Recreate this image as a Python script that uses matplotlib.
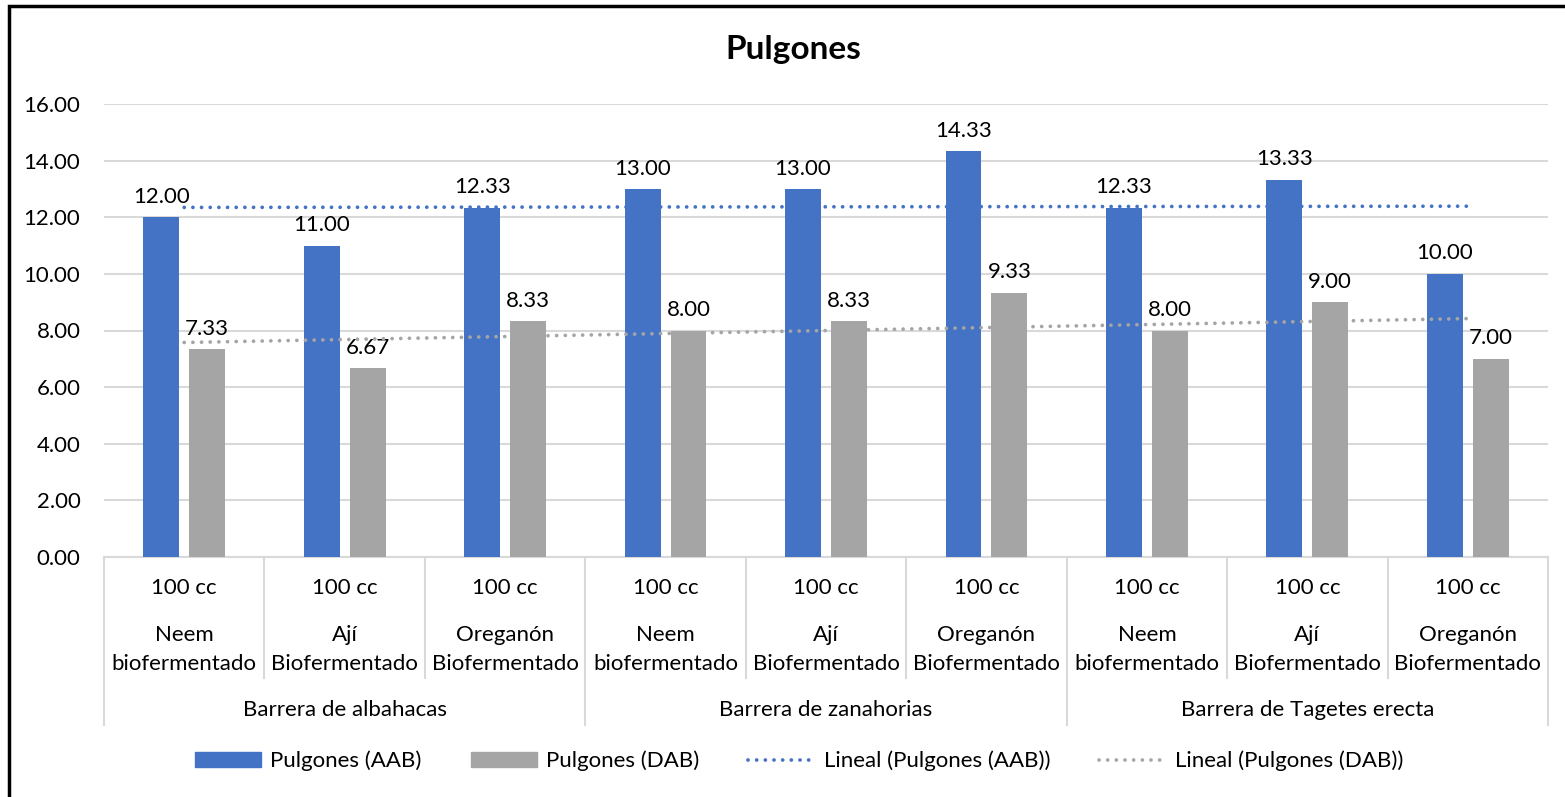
import numpy as np
import matplotlib
matplotlib.use("Agg")
import matplotlib.pyplot as plt
from matplotlib.patches import Rectangle
from matplotlib.lines import Line2D
from matplotlib.patches import Patch

plt.rcParams["font.family"] = ["Lato", "DejaVu Sans"]

# data
treatments = ["Neem\nbiofermentado", "Ají\nBiofermentado", "Oreganón\nBiofermentado"] * 3
doses = ["100 cc"] * 9
barriers = ["Barrera de albahacas", "Barrera de zanahorias", "Barrera de Tagetes erecta"]
aab = [12.00, 11.00, 12.33, 13.00, 13.00, 14.33, 12.33, 13.33, 10.00]
dab = [7.33, 6.67, 8.33, 8.00, 8.33, 9.33, 8.00, 9.00, 7.00]

blue = "#4472C4"
gray = "#A5A5A5"
grid_c = "#D9D9D9"
fs = 16
dot = (0, (0.01, 2.3))

fig = plt.figure(figsize=(15.65, 7.97), dpi=100)
ax = fig.add_axes([104 / 1565, 1 - 557 / 797, (1548 - 104) / 1565, 453 / 797])

x = np.arange(len(aab))
w = 0.224
off = 0.143
ax.bar(x - off, aab, w, color=blue, zorder=3)
ax.bar(x + off, dab, w, color=gray, zorder=3)

for xi, v in zip(x - off, aab):
    ax.annotate(f"{v:.2f}", (xi, v), xytext=(0, 7.5), textcoords="offset points",
                ha="center", va="bottom", fontsize=fs)
for xi, v in zip(x + off, dab):
    ax.annotate(f"{v:.2f}", (xi, v), xytext=(0, 7.5), textcoords="offset points",
                ha="center", va="bottom", fontsize=fs)

# linear trendlines (Excel "Lineal")
xs = x + 1
for vals, c in [(aab, blue), (dab, gray)]:
    m, b = np.polyfit(xs, vals, 1)
    ax.plot(x, m * xs + b, color=c, linestyle=dot, linewidth=2.7,
            dash_capstyle="round", zorder=4)

ax.set_xlim(-0.5, len(aab) - 0.5)
ax.set_ylim(0, 16)
ax.set_yticks(np.arange(0, 17, 2))
ax.set_yticklabels([f"{t:.2f}" for t in np.arange(0, 17, 2)], fontsize=fs)
ax.tick_params(axis="y", length=0, pad=17)
ax.set_xticks([])
ax.grid(axis="y", color=grid_c, linewidth=1.5, zorder=0)
for s in ["top", "right", "left"]:
    ax.spines[s].set_visible(False)
ax.spines["bottom"].set_color(grid_c)
ax.spines["bottom"].set_linewidth(1.5)

# multi-level category axis
tr = ax.get_xaxis_transform()
for i in range(len(aab)):
    ax.text(i, -0.068, doses[i], transform=tr, ha="center", va="center", fontsize=fs)
    ax.text(i, -0.205, treatments[i], transform=tr, ha="center", va="center",
            fontsize=fs, linespacing=1.55)
for i in range(len(aab) + 1):
    bottom = -0.371 if i % 3 == 0 else -0.267
    ax.plot([i - 0.5, i - 0.5], [0, bottom], transform=tr, color=grid_c,
            linewidth=1.5, clip_on=False)
for g, name in enumerate(barriers):
    ax.text(g * 3 + 1, -0.338, name, transform=tr, ha="center", va="center", fontsize=fs)

fig.text(793 / 1565, 1 - 50 / 797, "Pulgones", ha="center", va="center",
         fontsize=24, fontweight="bold")

handles = [
    Patch(color=blue, label="Pulgones (AAB)"),
    Patch(color=gray, label="Pulgones (DAB)"),
    Line2D([], [], color=blue, linestyle=dot, linewidth=2.7,
           dash_capstyle="round", label="Lineal (Pulgones (AAB))"),
    Line2D([], [], color=gray, linestyle=dot, linewidth=2.7,
           dash_capstyle="round", label="Lineal (Pulgones (DAB))"),
]
fig.legend(handles=handles, loc="center", bbox_to_anchor=(799 / 1565, 1 - 761 / 797),
           ncol=4, frameon=False, fontsize=fs, handlelength=3.0, handleheight=0.65,
           columnspacing=2.2, handletextpad=0.4)

# chart border
fig.patches.append(Rectangle((9 / 1565, -0.05), 1.1, 1 - 6 / 797 + 0.05,
                             transform=fig.transFigure, fill=False,
                             edgecolor="black", linewidth=2.5))

fig.savefig("out.png", dpi=100)
